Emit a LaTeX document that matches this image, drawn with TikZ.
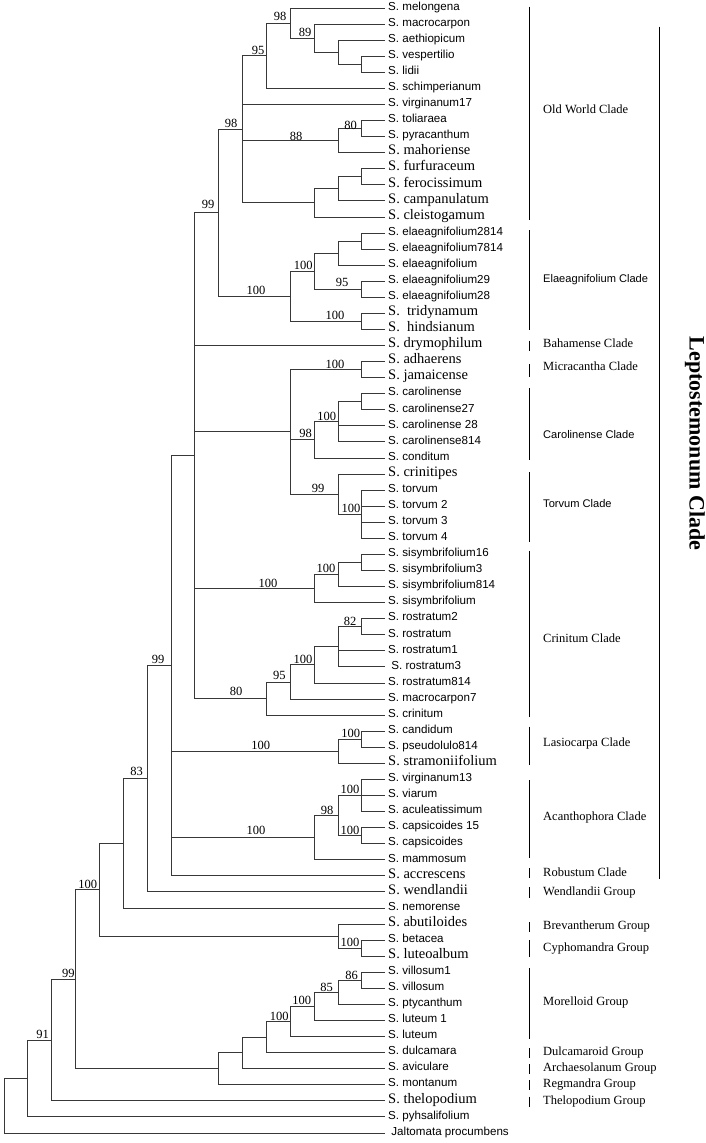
\documentclass[tikz,border=0pt]{standalone}
\usepackage{fontspec}
\setmainfont{Liberation Serif}
\newfontfamily\lsansfam{Liberation Sans}
\newcommand\lsa{\lsansfam\fontsize{11.6}{13}\selectfont}
\newcommand\lse{\rmfamily\fontsize{14.5}{16}\selectfont}
\newcommand\csa{\lsansfam\fontsize{11.1}{13}\selectfont}
\newcommand\cse{\rmfamily\fontsize{12.5}{14}\selectfont}
\tikzset{
  br/.style={draw=black!78, line width=0.8pt},
  bar/.style={draw=black, line width=0.9pt},
  leaf/.style={anchor=mid west, inner sep=0pt},
  boot/.style={anchor=center, inner sep=0pt, font=\rmfamily\fontsize{12.5}{14}\selectfont},
  clade/.style={anchor=mid west, inner sep=0pt},
}
\begin{document}
\begin{tikzpicture}[x=1pt,y=-1pt]
\useasboundingbox (0,0) rectangle (706,1143);
% leaves
\foreach \i/\txt/\fnt in {
1/S. melongena/\lsa, 2/S. macrocarpon/\lsa, 3/S. aethiopicum/\lsa, 4/S. vespertilio/\lsa,
5/S. lidii/\lsa, 6/S. schimperianum/\lsa, 7/S. virginanum17/\lsa, 8/S. toliaraea/\lsa,
9/S. pyracanthum/\lsa, 10/S. mahoriense/\lse, 11/S. furfuraceum/\lse, 12/S. ferocissimum/\lse,
13/S. campanulatum/\lse, 14/S. cleistogamum/\lse, 15/S. elaeagnifolium2814/\lsa,
16/S. elaeagnifolium7814/\lsa, 17/S. elaeagnifolium/\lsa, 18/S. elaeagnifolium29/\lsa,
19/S. elaeagnifolium28/\lsa, 20/S.\ \ tridynamum/\lse, 21/S.\ \ hindsianum/\lse,
22/S. drymophilum/\lse, 23/S. adhaerens/\lse, 24/S. jamaicense/\lse, 25/S. carolinense/\lsa,
26/S. carolinense27/\lsa, 27/S. carolinense 28/\lsa, 28/S. carolinense814/\lsa,
29/S. conditum/\lsa, 30/S. crinitipes/\lse, 31/S. torvum/\lsa, 32/S. torvum 2/\lsa,
33/S. torvum 3/\lsa, 34/S. torvum 4/\lsa, 35/S. sisymbrifolium16/\lsa,
36/S. sisymbrifolium3/\lsa, 37/S. sisymbrifolium814/\lsa, 38/S. sisymbrifolium/\lsa,
39/S. rostratum2/\lsa, 40/S. rostratum/\lsa, 41/S. rostratum1/\lsa, 42/\ S. rostratum3/\lsa,
43/S. rostratum814/\lsa, 44/S. macrocarpon7/\lsa, 45/S. crinitum/\lsa, 46/S. candidum/\lsa,
47/S. pseudolulo814/\lsa, 48/S. stramoniifolium/\lse, 49/S. virginanum13/\lsa,
50/S. viarum/\lsa, 51/S. aculeatissimum/\lsa, 52/S. capsicoides 15/\lsa,
53/S. capsicoides/\lsa, 54/S. mammosum/\lsa, 55/S. accrescens/\lse, 56/S. wendlandii/\lse,
57/S. nemorense/\lsa, 58/S. abutiloides/\lse, 59/S. betacea/\lsa, 60/S. luteoalbum/\lse,
61/S. villosum1/\lsa, 62/S. villosum/\lsa, 63/S. ptycanthum/\lsa, 64/S. luteum 1/\lsa,
65/S. luteum/\lsa, 66/S. dulcamara/\lsa, 67/S. aviculare/\lsa, 68/S. montanum/\lsa,
69/S. thelopodium/\lse, 70/S. pyhsalifolium/\lsa, 71/\ Jaltomata procumbens/\lsa}
{
  \coordinate (t\i) at (385, {8+(\i-1)*16.07});
  \node[leaf] (l\i) at ([xshift=3pt]t\i) {\fnt\txt};
}
% internal nodes
\coordinate (R)   at (4,1105.66);
\coordinate (A1)  at (27.85,1078.41);
\coordinate (A2)  at (51.7,1039.99);
\coordinate (A3)  at (75.55,979.22);
\coordinate (A4)  at (99.4,889.70);
\coordinate (A5)  at (123.25,843.35);
\coordinate (A6)  at (147.1,778.78);
\coordinate (A7)  at (170.95,665.71);
\coordinate (A8)  at (194.8,455.64);
\coordinate (B1)  at (218.65,212.77);
\coordinate (OW)  at (242.5,129.28);
\coordinate (O95) at (266.35,55.71);
\coordinate (O98) at (290.2,23.07);
\coordinate (O89) at (314.05,38.13);
\coordinate (O3)  at (337.9,52.19);
\coordinate (O4)  at (361.75,64.245);
\coordinate (O88) at (337.9,140.58);
\coordinate (O80) at (361.75,128.525);
\coordinate (OF)  at (314.05,202.85);
\coordinate (OF2) at (337.9,188.79);
\coordinate (OF3) at (361.75,176.735);
\coordinate (EL)  at (290.2,296.26);
\coordinate (E1)  at (314.05,271.15);
\coordinate (E2)  at (337.9,253.07);
\coordinate (E3)  at (361.75,241.015);
\coordinate (E95) at (361.75,289.225);
\coordinate (E5)  at (361.75,321.365);
\coordinate (C1)  at (290.2,431.85);
\coordinate (Mi)  at (361.75,369.575);
\coordinate (Ca)  at (314.05,439.88);
\coordinate (Ca2) at (337.9,421.80);
\coordinate (Ca3) at (361.75,401.715);
\coordinate (To)  at (337.9,494.12);
\coordinate (To2) at (361.75,514.205);
\coordinate (S1)  at (314.05,588.53);
\coordinate (S2)  at (337.9,574.47);
\coordinate (S3)  at (361.75,562.415);
\coordinate (R1)  at (266.35,698.51);
\coordinate (R2)  at (290.2,681.935);
\coordinate (R3)  at (314.05,664.86);
\coordinate (R4)  at (337.9,646.78);
\coordinate (R5)  at (361.75,626.695);
\coordinate (LA)  at (337.9,751.24);
\coordinate (LA2) at (361.75,739.185);
\coordinate (AC)  at (314.05,837.61);
\coordinate (AC2) at (337.9,815.52);
\coordinate (AC3) at (361.75,795.43);
\coordinate (AC4) at (361.75,835.605);
\coordinate (BC)  at (337.9,936.04);
\coordinate (BC2) at (361.75,948.095);
\coordinate (M1)  at (218.65,1068.745);
\coordinate (M2)  at (242.5,1052.80);
\coordinate (M3)  at (266.35,1036.98);
\coordinate (M4)  at (290.2,1021.415);
\coordinate (M5)  at (314.05,1006.35);
\coordinate (M6)  at (337.9,992.29);
\coordinate (M7)  at (361.75,980.235);
% branches
\foreach \p/\c in {R/A1,R/t71,A1/A2,A1/t70,A2/A3,A2/t69,A3/A4,A3/M1,A4/A5,A4/BC,
A5/A6,A5/t57,A6/A7,A6/t56,A7/A8,A7/LA,A7/AC,A7/t55,A8/B1,A8/t22,A8/C1,A8/S1,A8/R1,
B1/OW,B1/EL,OW/O95,OW/t7,OW/O88,OW/OF,O95/O98,O95/t6,O98/t1,O98/O89,O89/t2,O89/O3,
O3/t3,O3/O4,O4/t4,O4/t5,O88/O80,O88/t10,O80/t8,O80/t9,OF/OF2,OF/t14,OF2/OF3,OF2/t13,
OF3/t11,OF3/t12,EL/E1,EL/E5,E1/E2,E1/E95,E2/E3,E2/t17,E3/t15,E3/t16,E95/t18,E95/t19,
E5/t20,E5/t21,C1/Mi,C1/Ca,C1/To,Mi/t23,Mi/t24,Ca/Ca2,Ca/t29,Ca2/Ca3,Ca2/t27,Ca2/t28,
Ca3/t25,Ca3/t26,To/t30,To/To2,To2/t31,To2/t32,To2/t33,To2/t34,S1/S2,S1/t38,S2/S3,S2/t37,
S3/t35,S3/t36,R1/R2,R1/t45,R2/R3,R2/t44,R3/R4,R3/t43,R4/R5,R4/t41,R4/t42,R5/t39,R5/t40,
LA/LA2,LA/t48,LA2/t46,LA2/t47,AC/AC2,AC/t54,AC2/AC3,AC2/AC4,AC3/t49,AC3/t50,AC3/t51,
AC4/t52,AC4/t53,BC/t58,BC/BC2,BC2/t59,BC2/t60,M1/M2,M1/t68,M2/M3,M2/t67,M3/M4,M3/t66,
M4/M5,M4/t65,M5/M6,M5/t64,M6/M7,M6/t63,M7/t61,M7/t62}
{ \draw[br] (\p) |- (\c); }
% bootstrap values
\foreach \n/\x/\y/\v in {O98/280/16.7/98, O89/305/32.3/89, O95/258/50/95, OW/231/123/98,
O88/296/136.7/88, O80/350.7/125/80, B1/208/204/99, EL/256/290/100, E1/303.3/265.7/100,
E95/342/282/95, E5/335/315/100, Mi/335/364/100, Ca2/326.7/416/100, Ca/305.7/433/98,
To/318/488/99, To2/351/508/100, S1/268/583/100, S2/326/568.7/100, R5/350/621.7/82,
R3/303/659/100, R2/279.3/675.7/95, R1/236/691.7/80, A7/158/659/99, LA/260.7/745.7/100,
LA2/350.7/733/100, AC/256/830/100, AC2/327/810/98, AC3/350/789/100, AC4/350/830.7/100,
A6/136.7/771.7/83, A4/87.7/884/100, BC2/350/942/100, A3/68.3/973/99, M7/351.7/975/86,
M6/326.7/987.3/85, M5/301.7/1000.7/100, M4/279.3/1016/100, A2/42.7/1034/91}
{ \node[boot] (bs\n) at (\x,\y) {\v}; }
% clade bars and labels
\foreach \k/\a/\b/\y/\fnt/\txt in {
1/6.7/220/111/\cse/Old World Clade,
2/230/330/280/\csa/Elaeagnifolium Clade,
3/340.7/350.7/345.7/\cse/Bahamense Clade,
4/364/376.7/368.3/\cse/Micracantha Clade,
5/388/460/435.7/\csa/Carolinense Clade,
6/472/541.7/505/\csa/Torvum Clade,
7/550.7/716.7/640/\cse/Crinitum Clade,
8/726.7/765/744/\cse/Lasiocarpa Clade,
9/780/858.3/818.3/\cse/Acanthophora Clade,
10/868/878.3/874/\cse/Robustum Clade,
11/887/898/893/\cse/Wendlandii Group,
12/922/932/926.7/\cse/Brevantherum Group,
13/940/956.7/949/\cse/Cyphomandra Group,
14/968.3/1039.3/1003.3/\cse/Morelloid Group,
15/1048.3/1058.3/1053/\cse/Dulcamaroid Group,
16/1064.3/1074.3/1069/\cse/Archaesolanum Group,
17/1080/1090/1085/\cse/Regmandra Group,
18/1096.7/1106.7/1102/\cse/Thelopodium Group}
{
  \coordinate (cb\k a) at (529.3,\a);
  \coordinate (cb\k b) at (529.3,\b);
  \draw[bar] (cb\k a) -- (cb\k b);
  \node[clade] (cl\k) at (543,\y) {\fnt\txt};
}
\coordinate (lepa) at (659,26.7);
\coordinate (lepb) at (659,879.3);
\draw[bar] (lepa) -- (lepb);
\node[rotate=-90, inner sep=0pt, font=\rmfamily\bfseries\fontsize{22}{24}\selectfont] (lep) at (695,443.5) {Leptostemonum Clade};
\end{tikzpicture}
\end{document}
